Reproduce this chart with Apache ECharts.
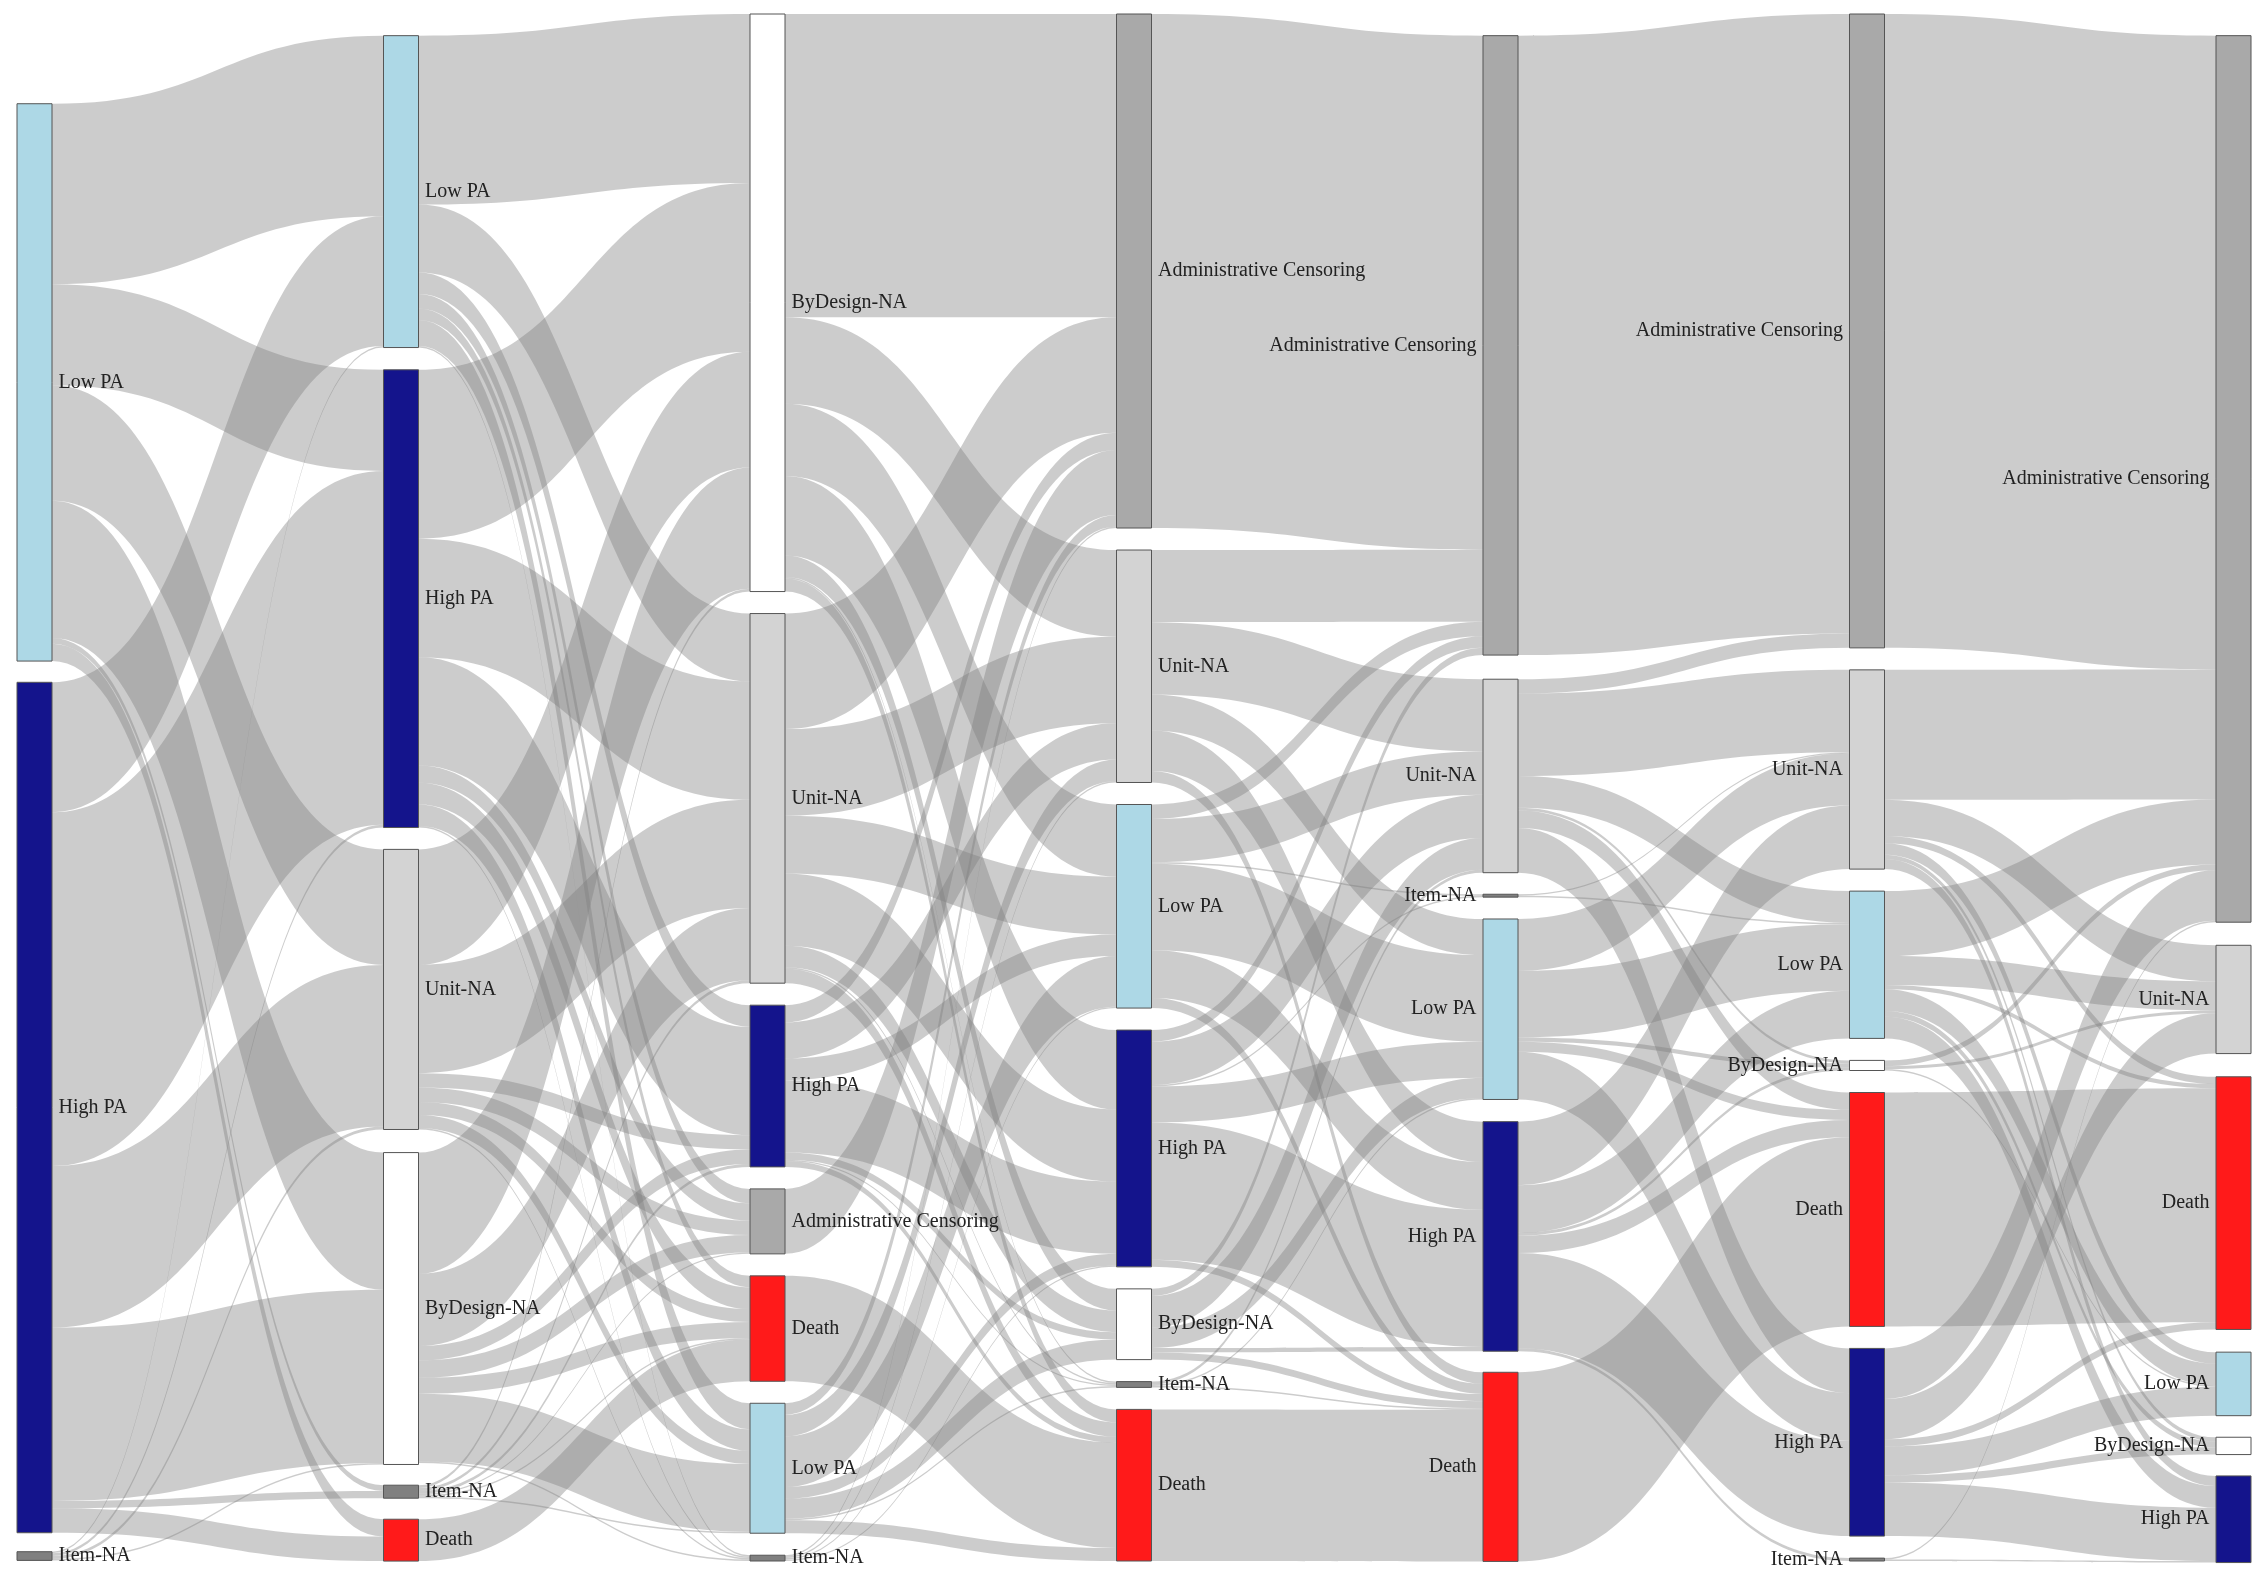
<!DOCTYPE html>
<html><head><meta charset="utf-8">
<script src="https://cdn.jsdelivr.net/npm/echarts@6/dist/echarts.min.js"></script>
<style>html,body{margin:0;padding:0;background:#fff}#c{width:2262px;height:1578px}</style>
</head><body><div id="c"></div>
<script>
const col0 = ['Low PA','High PA','Item-NA'];
const col1 = ['Low PA','High PA','Unit-NA','ByDesign-NA','Item-NA','Death'];
const col2 = ['ByDesign-NA','Unit-NA','High PA','Administrative Censoring','Death','Low PA','Item-NA'];
const col3 = ['Administrative Censoring','Unit-NA','Low PA','High PA','ByDesign-NA','Item-NA','Death'];
const col4 = ['Administrative Censoring','Unit-NA','Item-NA','Low PA','High PA','Death'];
const col5 = ['Administrative Censoring','Unit-NA','Low PA','ByDesign-NA','Death','High PA','Item-NA'];
const col6 = ['Administrative Censoring','Unit-NA','Death','Low PA','ByDesign-NA','High PA'];
const columns = [col0,col1,col2,col3,col4,col5,col6];
// node tops (fraction of layout height) for columns that do not start at the top
const col0LocalY = [0.058,0.432,0.994];
const col1LocalY = [0.014,0.230,0.540,0.736,0.951,0.973];
const col4LocalY = [0.014,0.430,0.569,0.585,0.716,0.878];
const col6LocalY = [0.014,0.602,0.687,0.865,0.920,0.945];
const localYs = {0:col0LocalY,1:col1LocalY,4:col4LocalY,6:col6LocalY};

const flows01 = [
  [125,70,80,95,4,12],
  [90,245,112,120,5,17],
  [1,2,2,1,0,0]
];
const flows12 = [
  [117,47,15,10,8,18,1],
  [117,82,75,12,15,15,1],
  [80,75,10,10,9,9,1],
  [84,50,10,12,11,47,1],
  [2,2,2,1,1,1,0],
  [0,0,0,0,29,0,0]
];
const flows23 = [
  [210,60,50,55,15,1,9],
  [80,60,40,50,15,1,10],
  [12,25,15,50,5,1,4],
  [45,0,0,0,0,0,0],
  [0,0,0,0,0,0,73],
  [8,15,35,8,14,1,9],
  [1,1,1,1,0,0,0]
];
const flows34 = [
  [356,0,0,0,0,0],
  [50,50,0,25,28,8],
  [10,30,1,60,33,7],
  [8,30,1,25,95,5],
  [5,22,0,14,3,5],
  [0,2,0,1,0,1],
  [0,0,0,0,0,105]
];
const flows45 = [
  [429,0,0,0,0,0,0],
  [10,57,22,2,12,31,0],
  [0,1,1,0,0,0,0],
  [0,36,46,3,7,33,0],
  [0,44,33,2,12,66,2],
  [0,0,0,0,131,0,0]
];
const flows56 = [
  [439,0,0,0,0,0],
  [90,25,5,8,3,7],
  [45,20,3,15,4,15],
  [4,2,0,1,0,0],
  [0,0,162,0,0,0],
  [35,28,5,20,5,37],
  [1,0,0,0,0,1]
];
const flows = [flows01,flows12,flows23,flows34,flows45,flows56];

const colors = {
  'Low PA':'#add8e6','High PA':'#14148c','Unit-NA':'#d3d3d3','ByDesign-NA':'#ffffff',
  'Item-NA':'#808080','Administrative Censoring':'#a9a9a9','Death':'#ff1a1a'
};
const nodes = [], links = [];
columns.forEach((col,k)=>col.forEach((n,i)=>{
  const nd = {name:n+'|'+k, depth:k, itemStyle:{color:colors[n]},
    label:{position: k>=4?'left':'right'}};
  if(localYs[k]) nd.localY = localYs[k][i];
  nodes.push(nd);
}));
flows.forEach((m,k)=>m.forEach((row,i)=>row.forEach((v,j)=>{
  if(v>0) links.push({source:columns[k][i]+'|'+k, target:columns[k+1][j]+'|'+(k+1), value:v});
})));

const chart = echarts.init(document.getElementById('c'));
chart.setOption({
  animation:false,
  series:[{
    type:'sankey', left:17, right:11, top:14, bottom:17,
    nodeWidth:35, nodeGap:22, layoutIterations:0, draggable:false,
    data:nodes, links:links,
    itemStyle:{borderColor:'#555',borderWidth:1},
    lineStyle:{color:'#808080',opacity:0.4,curveness:0.5},
    label:{fontFamily:'Liberation Serif',fontSize:20,color:'#222',distance:6,
      formatter:p=>p.name.split('|')[0]},
    emphasis:{disabled:true}
  }]
});
</script></body></html>
